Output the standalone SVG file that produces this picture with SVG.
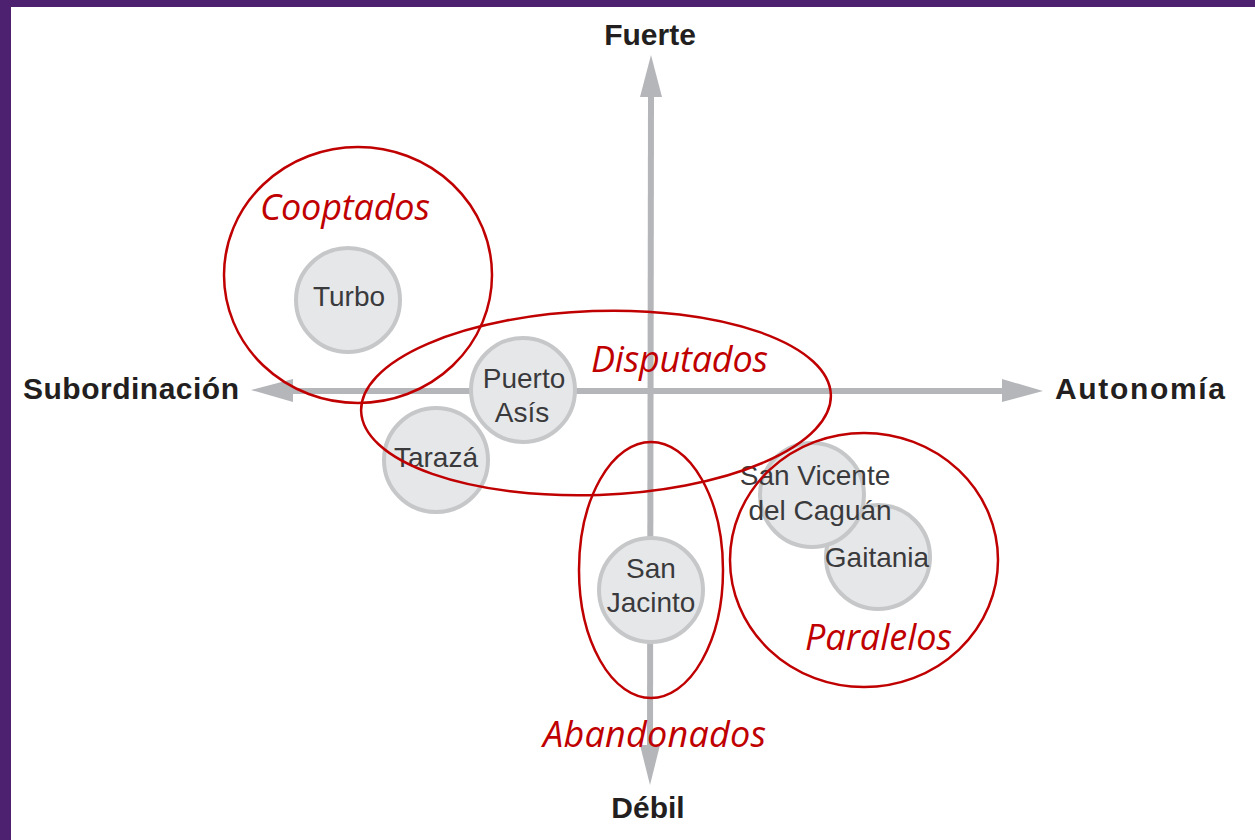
<svg xmlns="http://www.w3.org/2000/svg" width="1255" height="840" viewBox="0 0 1255 840">
<style>
.axis{stroke:#b5b6ba;stroke-width:6;fill:none}
.head{fill:#b5b6ba}
.node{fill:#e6e7e9;stroke:#c6c7c9;stroke-width:4}
.nt{font-family:"Liberation Sans",Arial,sans-serif;font-size:28px;fill:#3a3a3c;text-anchor:middle}
.ax{font-family:"Liberation Sans",Arial,sans-serif;font-size:30px;font-weight:bold;fill:#231f20}
.grp{fill:none;stroke:#c00000;stroke-width:2.5}
.gl{font-family:"Open Sans","Liberation Sans",sans-serif;font-style:italic;font-size:36px;fill:#c00000}
</style>
<rect x="0" y="0" width="1255" height="840" fill="#ffffff"/>
<rect x="0" y="0" width="1255" height="7" fill="#4e2170"/>
<rect x="0" y="0" width="11" height="840" fill="#4e2170"/>

<g id="axes">
<line class="axis" x1="651" y1="95" x2="650" y2="750"/>
<line class="axis" x1="290" y1="391" x2="1005" y2="391"/>
<polygon class="head" points="651,55 662,97 640,97"/>
<polygon class="head" points="650,785 660,745 640,745"/>
<polygon class="head" points="251,390 293,379 293,402"/>
<polygon class="head" points="1043,391 1002,379 1002,402"/>
</g>

<g id="axis-labels">
<text class="ax" x="650" y="45" text-anchor="middle">Fuerte</text>
<text class="ax" x="648" y="818" text-anchor="middle">Débil</text>
<text class="ax" x="23" y="399" textLength="216">Subordinación</text>
<text class="ax" x="1055" y="399" textLength="170">Autonomía</text>
</g>

<g id="node-turbo">
<circle class="node" cx="348" cy="300" r="52"/>
<text class="nt" x="349" y="306">Turbo</text>
</g>
<g id="node-puerto-asis">
<circle class="node" cx="523" cy="390" r="52"/>
<text class="nt" x="524" y="388">Puerto</text>
<text class="nt" x="522" y="422">Asís</text>
</g>
<g id="node-taraza">
<circle class="node" cx="436" cy="460" r="52"/>
<text class="nt" x="436" y="467">Tarazá</text>
</g>
<g id="node-gaitania">
<circle class="node" cx="878" cy="557" r="52"/>
<text class="nt" x="877" y="567">Gaitania</text>
</g>
<g id="node-san-vicente">
<circle class="node" cx="812" cy="495" r="52"/>
<text class="nt" x="815" y="485">San Vicente</text>
<text class="nt" x="820" y="520">del Caguán</text>
</g>
<g id="node-san-jacinto">
<circle class="node" cx="651" cy="590" r="52"/>
<text class="nt" x="651" y="578">San</text>
<text class="nt" x="651" y="612">Jacinto</text>
</g>

<g id="groups">
<ellipse class="grp" cx="358" cy="275" rx="134" ry="128"/>
<ellipse class="grp" cx="596" cy="403" rx="235" ry="92" transform="rotate(-2 596 403)"/>
<ellipse class="grp" cx="651" cy="570" rx="72" ry="128"/>
<ellipse class="grp" cx="864" cy="560" rx="134" ry="127"/>
</g>

<g id="group-labels">
<text class="gl" x="260" y="220" textLength="170">Cooptados</text>
<text class="gl" x="591" y="372" textLength="177">Disputados</text>
<text class="gl" x="805" y="650" textLength="147">Paralelos</text>
<text class="gl" x="543" y="747" textLength="223">Abandonados</text>
</g>
</svg>
